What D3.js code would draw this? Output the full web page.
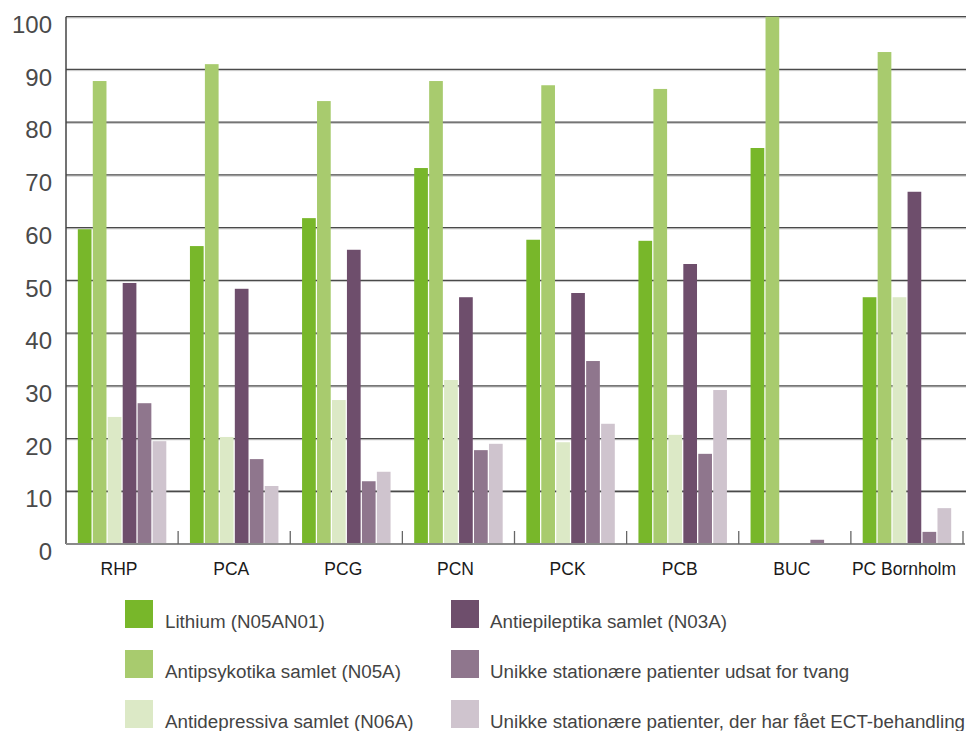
<!DOCTYPE html>
<html>
<head>
<meta charset="utf-8">
<script src="https://cdn.jsdelivr.net/npm/d3@7"></script>
<style>
  html, body { margin: 0; padding: 0; background: #fff; }
  svg { display: block; font-family: "Liberation Sans", Arial, sans-serif; }
</style>
</head>
<body>
<svg id="chart" width="968" height="731"></svg>
<script>
// Units / regions
const categories = ["RHP", "PCA", "PCG", "PCN", "PCK", "PCB", "BUC", "PC Bornholm"];

// Series names, in drawing order within each group
const seriesNames = [
  "Lithium (N05AN01)",
  "Antipsykotika samlet (N05A)",
  "Antidepressiva samlet (N06A)",
  "Antiepileptika samlet (N03A)",
  "Unikke stationære patienter udsat for tvang",
  "Unikke stationære patienter, der har fået ECT-behandling"
];

// Values per series, one per category
const lithium        = [59.7, 56.5, 61.8, 71.3, 57.7, 57.5, 75.1, 46.8];
const antipsykotika  = [87.8, 91.0, 84.0, 87.8, 87.0, 86.3, 100.0, 93.3];
const antidepressiva = [24.1, 20.3, 27.3, 31.1, 19.3, 20.7, 0, 46.8];
const antiepileptika = [49.5, 48.4, 55.8, 46.8, 47.6, 53.1, 0, 66.8];
const tvang          = [26.7, 16.1, 11.9, 17.8, 34.7, 17.1, 0.8, 2.3];
const ect            = [19.5, 11.0, 13.7, 19.0, 22.8, 29.2, 0, 6.8];

const yTicks = [0, 10, 20, 30, 40, 50, 60, 70, 80, 90, 100];

const colors = ["#78b72a", "#a8cb6e", "#dce9c6", "#6e4e6c", "#8f768d", "#cfc4ce"];

const seriesValues = [lithium, antipsykotika, antidepressiva, antiepileptika, tvang, ect];

(function draw() {
  const svg = d3.select("#chart");

  const plotLeft = 66, plotRight = 963, plotTop = 16.7, plotBottom = 544;

  const x0 = d3.scaleBand().domain(categories).range([plotLeft, plotRight]).padding(0);
  const x1 = d3.scaleBand()
    .domain(d3.range(seriesNames.length))
    .range([0, x0.bandwidth()])
    .paddingInner(0.084)
    .paddingOuter(0.79);
  const y = d3.scaleLinear().domain([0, 100]).range([plotBottom, plotTop]);

  // Horizontal gridlines: dark line with a light line beneath
  const grid = svg.append("g");
  grid.selectAll("line.gl")
    .data(yTicks.filter(d => d > 0))
    .join("line")
    .attr("class", "gl")
    .attr("x1", plotLeft).attr("x2", plotRight + 3)
    .attr("y1", d => y(d) + 1.2).attr("y2", d => y(d) + 1.2)
    .attr("stroke", "#c4c4c4").attr("stroke-width", 1);
  grid.selectAll("line.gd")
    .data(yTicks.filter(d => d > 0))
    .join("line")
    .attr("class", "gd")
    .attr("x1", plotLeft).attr("x2", plotRight + 3)
    .attr("y1", d => y(d)).attr("y2", d => y(d))
    .attr("stroke", "#4a4a4a").attr("stroke-width", 1.3);

  // Bars
  const groups = svg.append("g")
    .selectAll("g")
    .data(categories)
    .join("g")
    .attr("transform", d => `translate(${x0(d)},0)`);

  groups.selectAll("rect")
    .data((c, ci) => seriesValues.map((vals, si) => ({ si, v: vals[ci] })))
    .join("rect")
    .attr("x", d => x1(d.si))
    .attr("width", x1.bandwidth())
    .attr("y", d => y(d.v))
    .attr("height", d => y(0) - y(d.v))
    .attr("fill", d => colors[d.si]);

  // Left axis line
  svg.append("line")
    .attr("x1", plotLeft).attr("x2", plotLeft)
    .attr("y1", plotTop).attr("y2", plotBottom)
    .attr("stroke", "#444").attr("stroke-width", 1.5);

  // Bottom axis line and category separators
  svg.append("line")
    .attr("x1", plotLeft).attr("x2", plotRight + 2)
    .attr("y1", plotBottom).attr("y2", plotBottom)
    .attr("stroke", "#8a8a8a").attr("stroke-width", 2);

  const boundaries = categories.map(c => x0(c) + x0.bandwidth());
  svg.append("g").selectAll("line")
    .data(boundaries)
    .join("line")
    .attr("x1", d => d).attr("x2", d => d)
    .attr("y1", plotBottom - 13).attr("y2", plotBottom)
    .attr("stroke", "#666").attr("stroke-width", 1.3);

  // Y axis labels
  const yAxis = svg.append("g")
    .attr("transform", `translate(${plotLeft},0)`)
    .call(d3.axisLeft(y).tickValues(yTicks).tickSize(0).tickPadding(14));
  yAxis.select(".domain").remove();
  yAxis.selectAll("text")
    .attr("font-family", "Liberation Sans, Arial, sans-serif")
    .attr("font-size", 24)
    .attr("fill", "#4a4a4a")
    .attr("dy", "0.32em")
    .attr("transform", "translate(0,8)");

  // X axis labels
  const xAxis = svg.append("g")
    .attr("transform", `translate(0,${plotBottom})`)
    .call(d3.axisBottom(x0).tickSize(0).tickPadding(19));
  xAxis.select(".domain").remove();
  xAxis.selectAll("text")
    .attr("font-family", "Liberation Sans, Arial, sans-serif")
    .attr("font-size", 17.5)
    .attr("fill", "#1a1a1a")
    .attr("dx", -3);

  // Legend: two columns of three
  const legendCols = [125, 451];
  const legendRows = [600, 650, 700];
  const legend = svg.append("g")
    .selectAll("g")
    .data(seriesNames)
    .join("g")
    .attr("transform", (d, i) => `translate(${legendCols[Math.floor(i / 3)]},${legendRows[i % 3]})`);

  legend.append("rect")
    .attr("width", 28).attr("height", 28)
    .attr("fill", (d, i) => colors[i]);

  legend.append("text")
    .attr("x", (d, i) => i < 3 ? 40 : 39)
    .attr("y", 28)
    .attr("font-family", "Liberation Sans, Arial, sans-serif")
    .attr("font-size", 18.8)
    .attr("fill", "#444")
    .text(d => d);
})();
</script>
</body>
</html>
